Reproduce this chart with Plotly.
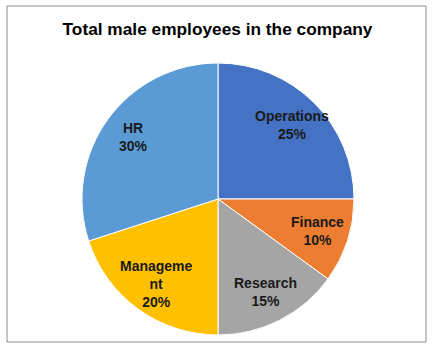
import numpy as np
import plotly.graph_objects as go

categories = ["Operations", "Finance", "Research", "Management", "HR"]
display_labels = ["Operations", "Finance", "Research", "Manageme<br>nt", "HR"]
values = [25, 10, 15, 20, 30]
colors = ["#4472C4", "#ED7D31", "#A5A5A5", "#FFC000", "#5B9BD5"]

W, H = 435, 345
CX, CY, R = 218, 199, 136          # pie centre / radius in px
LABEL_R = 0.77                     # label distance as fraction of radius

dom_x = [(CX - R) / W, (CX + R) / W]
dom_y = [1 - (CY + R) / H, 1 - (CY - R) / H]

vals = np.array(values, dtype=float)
frac = vals / vals.sum()
mid = (np.cumsum(frac) - frac / 2) * 2 * np.pi   # clockwise from 12 o'clock
lx = LABEL_R * np.sin(mid)
ly = LABEL_R * np.cos(mid)
label_text = [f"<b>{t}<br>{round(f * 100)}%</b>" for t, f in zip(display_labels, frac)]

fig = go.Figure()
fig.add_trace(go.Pie(
    labels=categories,
    values=values,
    textinfo="none",
    sort=False,
    direction="clockwise",
    rotation=0,
    marker=dict(colors=colors, line=dict(color="white", width=1)),
    hoverinfo="label+percent",
    showlegend=False,
    domain=dict(x=dom_x, y=dom_y),
))

annotations = [
    dict(x=float(x), y=float(y), xref="x", yref="y", text=t, showarrow=False,
         xanchor="center", yanchor="middle", align="center",
         font=dict(family="Liberation Sans", size=14, color="#1a1a1a"))
    for x, y, t in zip(lx, ly, label_text)
]

fig.update_layout(
    width=W, height=H,
    margin=dict(l=0, r=0, t=0, b=0),
    paper_bgcolor="white",
    plot_bgcolor="rgba(0,0,0,0)",
    xaxis=dict(domain=dom_x, range=[-1, 1], visible=False, fixedrange=True),
    yaxis=dict(domain=dom_y, range=[-1, 1], visible=False, fixedrange=True),
    annotations=annotations,
    title=dict(
        text="<b>Total male employees in the company</b>",
        x=0.5, xanchor="center",
        y=1 - 29 / H, yanchor="middle",
        font=dict(family="Liberation Sans", size=17.3, color="#000000"),
    ),
    shapes=[dict(
        type="rect", xref="paper", yref="paper",
        x0=7 / W, x1=426 / W, y0=1 - 342 / H, y1=1 - 6 / H,
        line=dict(color="#8c8c8c", width=1),
        fillcolor="rgba(0,0,0,0)",
    )],
)

fig.write_html("out.html")
